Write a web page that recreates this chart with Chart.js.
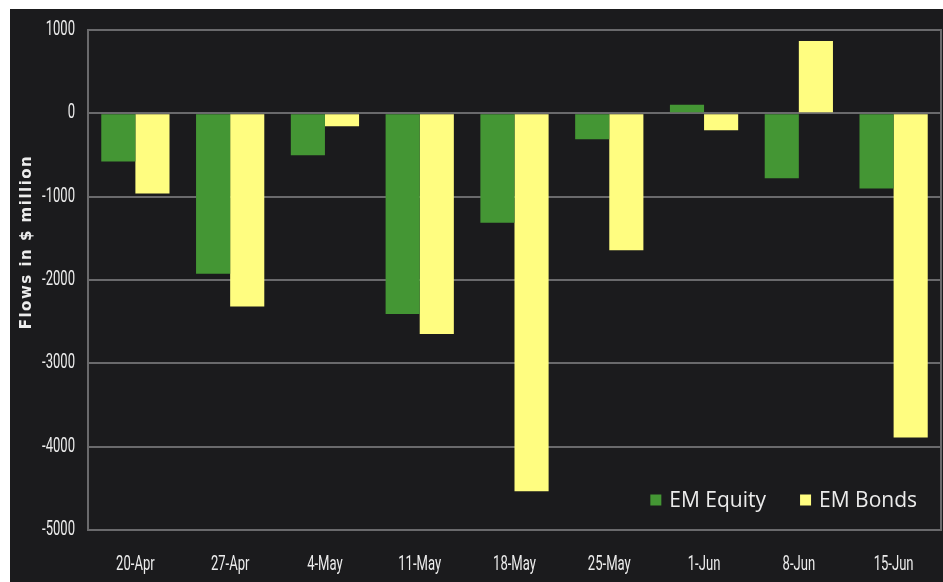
<!DOCTYPE html>
<html>
<head>
<meta charset="utf-8">
<title>EM fund flows</title>
<script src="https://cdn.jsdelivr.net/npm/chart.js@4/dist/chart.umd.min.js"></script>
<style>
  html, body { margin: 0; padding: 0; background: #ffffff; }
  #wrap { position: absolute; left: 10px; top: 9px; width: 933px; height: 573px; background: #1b1b1d; }
  canvas { display: block; }
</style>
</head>
<body>
<div id="wrap"><canvas id="chart" width="933" height="573"></canvas></div>
<script>
// Weekly flows, $ million
const weeks = ['20-Apr', '27-Apr', '4-May', '11-May', '18-May', '25-May', '1-Jun', '8-Jun', '15-Jun'];
const emEquity = [-579, -1925, -502, -2408, -1314, -311, 104, -778, -902];
const emBonds = [-963, -2319, -156, -2647, -4536, -1644, -202, 867, -3891];
const yTicks = [1000, 0, -1000, -2000, -3000, -4000, -5000];

const GRID = '#6a6a6c';
const TEXT = '#ececec';
const TICK_FONT = '19.5px Roboto, "Liberation Sans", sans-serif';
const SQUEEZE = 0.67; // horizontal squeeze for the narrow tick lettering

// Tick labels in a condensed style, placed from the chart's own scales
const narrowTicks = {
  id: 'narrowTicks',
  afterDraw(chart) {
    const { ctx, chartArea, scales } = chart;
    ctx.save();
    ctx.font = TICK_FONT;
    ctx.fillStyle = TEXT;
    ctx.textBaseline = 'middle';
    const draw = (text, x, y, align) => {
      ctx.save();
      ctx.translate(x, y);
      ctx.scale(SQUEEZE, 1);
      ctx.textAlign = align;
      ctx.fillText(text, 0, 0);
      ctx.restore();
    };
    scales.y.ticks.forEach(t => {
      draw(String(t.value), chartArea.left - 13, scales.y.getPixelForValue(t.value), 'right');
    });
    chart.data.labels.forEach((lab, i) => {
      draw(lab, scales.x.getPixelForValue(i), chartArea.bottom + 35, 'center');
    });
    ctx.restore();
  }
};

// Legend drawn inside the plot, bottom-right corner
const innerLegend = {
  id: 'innerLegend',
  afterDraw(chart) {
    const { ctx, chartArea } = chart;
    ctx.save();
    ctx.font = '21px "Open Sans", "Noto Sans", sans-serif';
    ctx.textBaseline = 'middle';
    ctx.textAlign = 'left';
    const box = 11, gap = 8, itemGap = 34;
    const y = chartArea.bottom - 30;
    const items = chart.data.datasets.map(d => ({ label: d.label, color: d.backgroundColor, w: ctx.measureText(d.label).width }));
    let x = chartArea.right - 24;
    for (let i = items.length - 1; i >= 0; i--) { x -= items[i].w + gap + box; if (i > 0) x -= itemGap; }
    items.forEach(it => {
      ctx.fillStyle = it.color;
      ctx.fillRect(x, y - box / 2, box, box);
      ctx.fillStyle = TEXT;
      ctx.fillText(it.label, x + box + gap, y + 1);
      x += box + gap + it.w + itemGap;
    });
    ctx.restore();
  }
};

// Vertical axis title, placed left of the tick labels
const axisTitle = {
  id: 'axisTitle',
  afterDraw(chart) {
    const { ctx, chartArea } = chart;
    ctx.save();
    ctx.translate(chartArea.left - 61, chartArea.top + 212);
    ctx.rotate(-Math.PI / 2);
    ctx.font = 'bold 15px "DejaVu Sans", "Open Sans", sans-serif';
    ctx.letterSpacing = '1.5px';
    ctx.fillStyle = TEXT;
    ctx.textAlign = 'center';
    ctx.textBaseline = 'middle';
    ctx.fillText('Flows in $ million', 0, 0);
    ctx.restore();
  }
};

// Box around the plot area
const plotFrame = {
  id: 'plotFrame',
  afterDatasetsDraw(chart) {
    const { ctx, chartArea } = chart;
    ctx.save();
    ctx.strokeStyle = GRID;
    ctx.lineWidth = 2;
    ctx.strokeRect(chartArea.left, chartArea.top, chartArea.right - chartArea.left, chartArea.bottom - chartArea.top);
    ctx.restore();
  }
};

new Chart(document.getElementById('chart'), {
  type: 'bar',
  data: {
    labels: weeks,
    datasets: [
      { label: 'EM Equity', data: emEquity, backgroundColor: '#449634' },
      { label: 'EM Bonds', data: emBonds, backgroundColor: '#fffd80' }
    ]
  },
  options: {
    responsive: false,
    animation: false,
    devicePixelRatio: 1,
    layout: { padding: { top: 21, right: 2, left: 0, bottom: 0 } },
    datasets: { bar: { categoryPercentage: 0.72, barPercentage: 1.0 } },
    plugins: { legend: { display: false }, tooltip: { enabled: false } },
    scales: {
      x: {
        grid: { display: false, drawTicks: false },
        border: { display: false },
        ticks: { display: false },
        afterFit(s) { s.height = 52; }
      },
      y: {
        min: -5000,
        max: 1000,
        afterBuildTicks(s) { s.ticks = yTicks.map(v => ({ value: v })); },
        grid: { color: GRID, lineWidth: 2, drawTicks: false },
        border: { display: false },
        ticks: { display: false },
        afterFit(s) { s.width = 78; }
      }
    }
  },
  plugins: [plotFrame, narrowTicks, innerLegend, axisTitle]
});
</script>
</body>
</html>
